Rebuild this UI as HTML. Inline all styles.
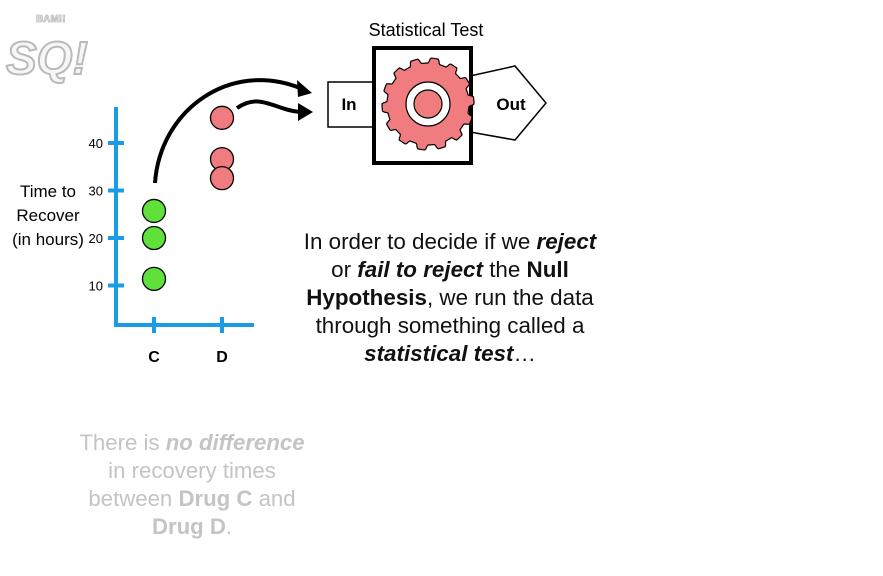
<!DOCTYPE html>
<html><head><meta charset="utf-8">
<style>
body{margin:0;background:#fff;}
svg{display:block;font-family:"Liberation Sans",Arial,sans-serif;}
</style></head>
<body>
<svg id="s" width="883" height="576" viewBox="0 0 883 576">
  <g opacity="0.5">
    <text x="6" y="74" font-size="46" font-weight="bold" font-style="italic" fill="#eee" stroke="#777" stroke-width="2">SQ!</text>
    <text x="36" y="22" font-size="10" font-weight="bold" fill="#eee" stroke="#777" stroke-width="0.8">BAM!!</text>
  </g>
  <g id="chart"></g>
  <path d="M155 183 C160 110 230 60 300 88" fill="none" stroke="#000" stroke-width="4"/>
  <polygon points="312,93 297,80 298,97" fill="#000"/>
  <path d="M237 108 C260 92 275 110 300 112" fill="none" stroke="#000" stroke-width="4"/>
  <polygon points="313,112 298,103 298,121" fill="#000"/>
  <text x="426" y="36" font-size="18" text-anchor="middle">Statistical Test</text>
  <g>
    <rect x="328" y="82" width="46" height="45" fill="#fff" stroke="#000" stroke-width="1.5"/>
    <text x="349" y="110" font-size="17" font-weight="bold" text-anchor="middle">In</text>
  </g>
  <g>
    <polygon points="470,76 515,66 546,103 515,140 470,132" fill="#fff" stroke="#000" stroke-width="1.5"/>
    <text x="511" y="110" font-size="17" font-weight="bold" text-anchor="middle">Out</text>
  </g>
  <rect x="374" y="48" width="97" height="115" fill="#fff" stroke="#000" stroke-width="4"/>
  <path id="gear" fill="#f07c80" stroke="#000" stroke-width="1.2" stroke-linejoin="round"/>
  <circle cx="428" cy="104" r="22" fill="#fff" stroke="#000" stroke-width="1.2"/>
  <circle cx="428" cy="104" r="14" fill="#f07c80" stroke="#000" stroke-width="1.2"/>
  <g font-size="22.4" text-anchor="middle" fill="#111">
    <text x="450" y="249">In order to decide if we <tspan font-weight="bold" font-style="italic">reject</tspan></text>
    <text x="450" y="277">or <tspan font-weight="bold" font-style="italic">fail to reject</tspan> the <tspan font-weight="bold">Null</tspan></text>
    <text x="450" y="305"><tspan font-weight="bold">Hypothesis</tspan>, we run the data</text>
    <text x="450" y="333">through something called a</text>
    <text x="450" y="361"><tspan font-weight="bold" font-style="italic">statistical test</tspan>…</text>
  </g>
  <g font-size="22.2" text-anchor="middle" fill="#c4c4c4">
    <text x="192" y="450">There is <tspan font-weight="bold" font-style="italic">no difference</tspan></text>
    <text x="192" y="478">in recovery times</text>
    <text x="192" y="506">between <tspan font-weight="bold">Drug C</tspan> and</text>
    <text x="192" y="534"><tspan font-weight="bold">Drug D</tspan>.</text>
  </g>
</svg>
<script>
const categories=["C","D"];
const drugC=[25.7,20,11.4];
const drugD=[45.3,36.6,32.6];
const yTicks=[10,20,30,40];
const NS="http://www.w3.org/2000/svg";
function yScale(v){return 333-v*4.75;}
function xScale(i){return 154+i*68;}
const g=document.getElementById('chart');
function mk(t,a){const e=document.createElementNS(NS,t);for(const k in a)e.setAttribute(k,a[k]);g.appendChild(e);return e;}
let e=mk('line',{x1:116,y1:107,x2:116,y2:327,stroke:'#1a9be8','stroke-width':4});


e=mk('line',{x1:114,y1:325,x2:254,y2:325,stroke:'#1a9be8','stroke-width':4});


yTicks.forEach(v=>{
  const y=yScale(v);
  let t=mk('line',{x1:108,y1:y,x2:124,y2:y,stroke:'#1a9be8','stroke-width':4});
  
  
  let l=mk('text',{x:103,y:y+5,'font-size':13,'text-anchor':'end'});l.textContent=v;
  
  
});
categories.forEach((c,i)=>{
  const x=xScale(i);
  let t=mk('line',{x1:x,y1:317,x2:x,y2:333,stroke:'#1a9be8','stroke-width':4});
  
  
  let l=mk('text',{x:x,y:362,'font-size':16,'font-weight':'bold','text-anchor':'middle'});l.textContent=c;
  
  
});
const yt=mk('text',{x:48,'font-size':17,'text-anchor':'middle'});


["Time to","Recover","(in hours)"].forEach((s,i)=>{const ts=document.createElementNS(NS,'tspan');ts.setAttribute('x',48);ts.setAttribute('y',197+i*24);ts.textContent=s;yt.appendChild(ts);});
[[drugC,'#5fe03a',0],[drugD,'#f07c80',1]].forEach(([arr,col,i])=>{
  arr.forEach(v=>{
    const c=mk('circle',{cx:xScale(i),cy:yScale(v),r:11.5,fill:col,stroke:'#000','stroke-width':1.3});
    
    
  });
});
// gear: rounded, shallow teeth
(function(){
  const cx=428,cy=104,n=14,ro=46,ri=41;let d='';
  const steps=280;
  for(let s=0;s<=steps;s++){
    const a=s*2*Math.PI/steps;
    const ph=((a*n/(2*Math.PI))%1);
    // smooth trapezoid profile
    let f;
    if(ph<0.15)f=ph/0.15;else if(ph<0.5)f=1;else if(ph<0.65)f=1-(ph-0.5)/0.15;else f=0;
    f=0.5-0.5*Math.cos(Math.PI*f);
    const r=ri+(ro-ri)*f;
    const x=cx+r*Math.sin(a),y=cy-r*Math.cos(a);
    d+=(s==0?'M':'L')+x.toFixed(1)+' '+y.toFixed(1)+' ';
  }
  document.getElementById('gear').setAttribute('d',d+'Z');
})();
</script>
</body></html>
